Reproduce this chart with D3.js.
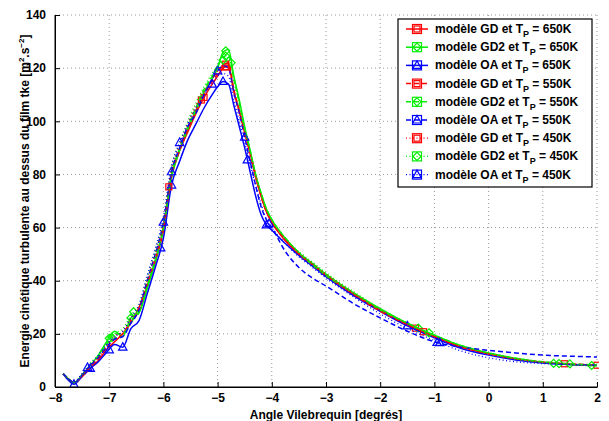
<!DOCTYPE html>
<html><head><meta charset="utf-8">
<script src="https://cdn.jsdelivr.net/npm/d3@7"></script>
<style>
body{margin:0;background:#fff;}
text{font-family:"Liberation Sans",Arial,sans-serif;font-weight:bold;}
</style></head>
<body><svg id="c" width="609" height="421"></svg>
<script>
// ---- data ----
const angles = [-7.85,-7.75,-7.65,-7.5,-7.35,-7.2,-7.05,-6.9,-6.75,-6.6,-6.45,-6.3,-6.15,-6.0,-5.85,-5.7,-5.55,-5.4,-5.25,-5.1,-5.0,-4.9,-4.8,-4.7,-4.6,-4.5,-4.4,-4.3,-4.2,-4.1,-4.0,-3.75,-3.5,-3.25,-3.0,-2.5,-2.0,-1.5,-1.0,-0.5,0,0.5,1.0,1.5,2.0];
const gd650   = [5,3,1.5,4,7,10,14,17,20,24,30,38,47,60,79,89,96,103,109,114,117,120,121,111,104,96,88,79,72,66,62,55,50,46,42,35,29,23.5,19,15,12.5,10.5,9.3,8.6,8.2];
const gd2_650 = [5,3,1.5,4.5,8,12,17,21,19,26,28,37,47,59,79,89,97,104,111,116,120,126,127,117,108,98,89,80,73,67,63,56,50.5,46.5,42.5,35.5,29.5,24,19.5,15.5,12.8,10.8,9.3,8.5,8.0];
const oa650   = [5,2.5,1,4,7,9.5,13,16,15,22,25,35,45,56,76,85,93,99,105,110,113,115,114,106,98,90,81,72,65,61,59,54,49.5,45.5,41.5,34.5,28.5,23,18.5,14.5,12.0,10.2,9.0,8.5,8.3];
const gd550   = [5,3,1.5,4,7.5,10.5,15,18,20,25,29,39,48,59,80,89,97,104,110,115,118,121,122,112,104,96,88,80,72,66,62,55.5,50,46,42,35,28.5,23.5,19,15,12.5,10.6,9.4,8.7,8.3];
const gd2_550 = [5,3,1.5,4.5,8,11.5,16,20,20,25,28,38,48,60,80,90,98,105,112,117,121,124,125,116,107,97,89,80,73,67,63,56,50.5,46,42,35.5,29,24,19.5,15.5,12.8,10.8,9.5,8.7,8.3];
const oa550   = [5,3,1.5,4.5,8,11,15,18,19,24,29,40,50,62,81,90,98,103,110,116,119,121,120,111,103,94,85,76,68,63,60,51,45,41,38,31.5,26,21,17,15,13.8,12.8,12,11.6,11.3];
const gd450   = [5,3,2,4.5,8,11,15,19,21,26,30,40,50,62,82,91,99,106,111,116,119,121,120,111,103,95,87,79,72,66,62,55.5,50.5,46.5,42.5,35.5,29,23.5,19,15,12.5,10.5,9.3,8.5,8.0];
const gd2_450 = [5,3,2,5,9,12,16,20,22,27,31,41,51,63,83,92,100,107,113,118,121,123,124,115,106,97,89,80,73,67,63,56,51,47,43,36,29.5,24,19.5,15.5,12.6,10.5,9.2,8.4,8.0];
const oa450   = [5,3,2,5,8.5,12,16,19,21,26,31,42,52,64,83,92,99,105,110,114,117,118,117,108,100,92,84,76,69,63,60,54,49,45,41,34,27.5,22,17.5,13.5,11,9.5,8.8,8.4,8.1];
// marker angles for each series
const mk_gd650   = [-5.25,-4.85,-1.35,1.4,2.0];
const mk_gd2_650 = [-7.0,-6.6,-4.85,-4.75,-1.3,1.3,1.9];
const mk_oa650   = [-7.65,-7.35,-7.0,-6.75,-6.05,-5.85,-4.9,-4.45,-4.1,-1.5];
const mk_gd550   = [-5.3,-4.85,-1.2];
const mk_gd2_550 = [-6.95,-4.85,-1.1,1.5];
const mk_oa550   = [-6.0,-5.85,-5.0,-4.5,-4.05,-0.95];
const mk_gd450   = [-5.9,-4.85];
const mk_gd2_450 = [-6.55,-4.9,1.2];
const mk_oa450   = [-7.4,-5.7,-5.1,-0.9];
const legendLabels = [
 ["modèle GD et T","650K"],["modèle GD2 et T","650K"],["modèle OA et T","650K"],
 ["modèle GD et T","550K"],["modèle GD2 et T","550K"],["modèle OA et T","550K"],
 ["modèle GD et T","450K"],["modèle GD2 et T","450K"],["modèle OA et T","450K"]];
const xTicks = [-8,-7,-6,-5,-4,-3,-2,-1,0,1,2];
const yTicks = [0,20,40,60,80,100,120,140];
const xLabel = "Angle Vilebrequin [degrés]";

// ---- styles ----
const RED="#ff0000", GREEN="#00ee00", BLUE="#0000ff";
const series = [
 {v:gd650,   m:mk_gd650,   c:RED,   s:"square",  d:null,  w:1.5},
 {v:gd2_650, m:mk_gd2_650, c:GREEN, s:"diamond", d:null,  w:1.5},
 {v:oa650,   m:mk_oa650,   c:BLUE,  s:"triangle",d:null,  w:1.5},
 {v:gd550,   m:mk_gd550,   c:RED,   s:"square",  d:"5,3", w:1.5},
 {v:gd2_550, m:mk_gd2_550, c:GREEN, s:"diamond", d:"5,3", w:1.5},
 {v:oa550,   m:mk_oa550,   c:BLUE,  s:"triangle",d:"5,3", w:1.5},
 {v:gd450,   m:mk_gd450,   c:RED,   s:"square",  d:"1,2.5", w:1.3},
 {v:gd2_450, m:mk_gd2_450, c:GREEN, s:"diamond", d:"1,2.5", w:1.3},
 {v:oa450,   m:mk_oa450,   c:BLUE,  s:"triangle",d:"1,2.5", w:1.3}];

const svg = d3.select("#c");
const L=55,R=597,T=15,B=387;
const x = d3.scaleLinear().domain([-8,2]).range([L,R]);
const y = d3.scaleLinear().domain([0,140]).range([B,T]);
const fmt = d => d<0 ? "\u2212"+Math.abs(d) : ""+d;

// grid
const g = svg.append("g");
g.selectAll(".vg").data(xTicks.slice(1)).join("line")
 .attr("x1",d=>x(d)).attr("x2",d=>x(d)).attr("y1",T).attr("y2",B)
 .attr("stroke","#999").attr("stroke-width",1).attr("stroke-dasharray","1,3");
g.selectAll(".hg").data(yTicks.slice(1)).join("line")
 .attr("x1",L).attr("x2",R).attr("y1",d=>y(d)).attr("y2",d=>y(d))
 .attr("stroke","#999").attr("stroke-width",1).attr("stroke-dasharray","1,3");

// axes
const xa = svg.append("g").attr("transform",`translate(0,${B})`)
 .call(d3.axisBottom(x).tickValues(xTicks).tickFormat(fmt).tickSizeInner(-5).tickSizeOuter(0).tickPadding(6));
const ya = svg.append("g").attr("transform",`translate(${L},0)`)
 .call(d3.axisLeft(y).tickValues(yTicks).tickFormat(fmt).tickSizeInner(-5).tickSizeOuter(0).tickPadding(9));
[xa,ya].forEach(a=>{a.selectAll("text").attr("font-size",12).attr("fill","#000")
 .style("font-family","'Liberation Sans',Arial,sans-serif").style("font-weight","bold");
 a.select(".domain").attr("stroke","#000"); a.selectAll(".tick line").attr("stroke","#000");});

// clip
svg.append("clipPath").attr("id","clip").append("rect").attr("x",L).attr("y",T-2).attr("width",R-L+2).attr("height",B-T+2);
const plot = svg.append("g").attr("clip-path","url(#clip)");
const line = d3.line().x((d,i)=>x(angles[i])).y(d=>y(d)).curve(d3.curveMonotoneX);

function marker(sel, shape, c){
  if(shape==="square") sel.append("rect").attr("x",-3).attr("y",-3).attr("width",6).attr("height",6);
  else if(shape==="diamond") sel.append("path").attr("d","M0,-4L4,0L0,4L-4,0Z");
  else sel.append("path").attr("d","M0,-4.5L4.2,3L-4.2,3Z");
  sel.selectAll("rect,path").attr("fill","none").attr("stroke",c).attr("stroke-width",1.2);
}
const interp = (arr,a) => { const i = Math.max(1, d3.bisectLeft(angles,a)); const a0=angles[i-1],a1=angles[i]; const t=(a-a0)/(a1-a0); return arr[i-1]+(arr[i]-arr[i-1])*t; };

series.forEach(s=>{
  plot.append("path").datum(s.v).attr("d",line).attr("fill","none")
   .attr("stroke",s.c).attr("stroke-width",s.w).attr("stroke-dasharray",s.d);
  s.m.forEach(a=>{
    const gm = plot.append("g").attr("transform",`translate(${x(a)},${y(interp(s.v,a))})`);
    marker(gm,s.s,s.c);
  });
});

// axis line redraw on top
svg.append("line").attr("x1",L).attr("x2",R).attr("y1",B).attr("y2",B).attr("stroke","#000");
svg.append("line").attr("x1",L).attr("x2",L).attr("y1",T).attr("y2",B).attr("stroke","#000");

// labels
svg.append("text").attr("x",(L+R)/2).attr("y",419).attr("text-anchor","middle").attr("font-size",12).text(xLabel);
const yl = svg.append("text").attr("transform",`translate(29,${(T+B)/2}) rotate(-90)`).attr("text-anchor","middle").attr("font-size",12);
yl.append("tspan").text("Energie cinétique turbulente au dessus du film tke [m");
yl.append("tspan").attr("font-size",8).attr("dy",-5).text("2");
yl.append("tspan").attr("dy",5).text(".s");
yl.append("tspan").attr("font-size",8).attr("dy",-5).text("\u22122");
yl.append("tspan").attr("dy",5).text("]");

// legend
const lg = svg.append("g");
lg.append("rect").attr("x",398).attr("y",19).attr("width",194).attr("height",168).attr("fill","#fff").attr("stroke","#000").attr("stroke-width",1.2);
series.forEach((s,i)=>{
  const cy = 29 + i*18.2;
  lg.append("line").attr("x1",406).attr("x2",428).attr("y1",cy).attr("y2",cy)
   .attr("stroke",s.c).attr("stroke-width",s.w).attr("stroke-dasharray",s.d);
  const gm = lg.append("g").attr("transform",`translate(417,${cy})`);
  gm.append("rect").attr("x",-4.5).attr("y",-4.5).attr("width",9).attr("height",9).attr("fill","#fff");
  marker(gm,s.s,s.c);
  const t = lg.append("text").attr("x",435).attr("y",cy+4).attr("font-size",12);
  t.append("tspan").text(legendLabels[i][0]);
  t.append("tspan").attr("font-size",9).attr("dy",4).text("P");
  t.append("tspan").attr("dy",-4).text(" = "+legendLabels[i][1]);
});
</script></body></html>
